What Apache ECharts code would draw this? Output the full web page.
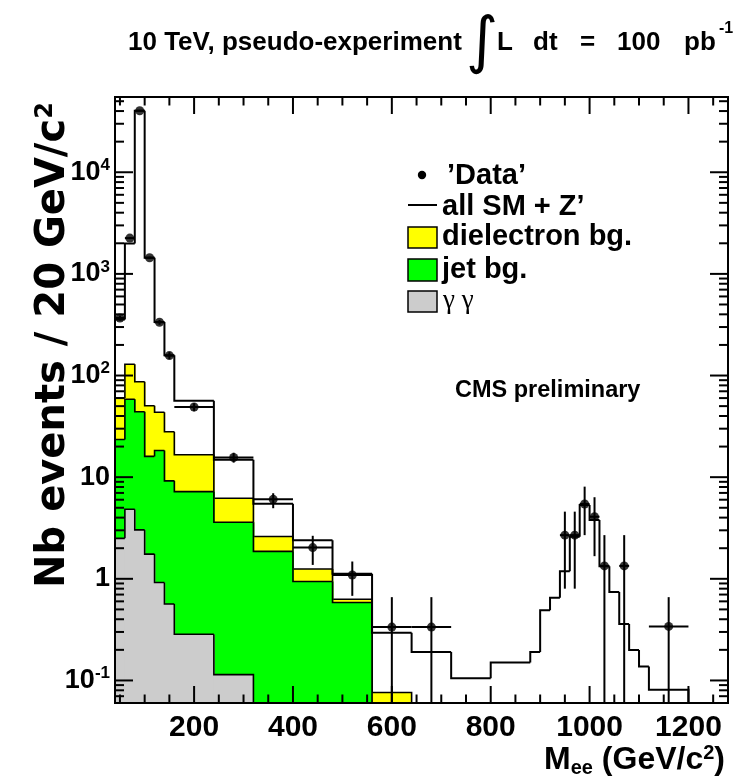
<!DOCTYPE html>
<html><head><meta charset="utf-8">
<script src="https://cdn.jsdelivr.net/npm/echarts@6/dist/echarts.min.js"></script>
<style>html,body{margin:0;padding:0;background:#fff}#c{width:747px;height:780px}</style>
</head><body><div id="c"></div>
<script>
// ---------- data ----------
// "all SM + Z'" histogram (variable bins, GeV) and its contents (events / 20 GeV)
const totalEdges = [40,60,80,100,120,140,160,240,320,400,480,560,640,720,800,880,900,920,940,960,980,1000,1020,1040,1060,1080,1100,1120,1200];
const totalSM = [355,1995,40300,1443,336,158,56.5,14.8,5.47,2.4,1.12,0.295,0.19,0.105,0.15,0.19,0.49,0.65,1.19,2.59,5.32,3.79,1.33,0.74,0.36,0.199,0.137,0.081];
// stacked backgrounds (levels of each filled area)
const bgEdges = [40,60,80,100,120,140,160,240,320,400,480,560,640];
const dielectronBg = [60,129,87,50.5,43.5,28,16.6,6.2,2.61,1.25,0.63,0.076];
const jetBg = [23.5,58.5,44,16,18.3,9.2,7.2,3.6,1.86,0.94,0.585];
const gammaGammaBg = [2.5,4.84,3.03,1.75,0.92,0.565,0.285,0.114];
// pseudo-data
const dataMass = [50,70,90,110,130,150,200,280,360,440,520,600,680,950,970,990,1010,1030,1070,1160];
const dataHalfBin = [10,10,10,10,10,10,40,40,40,40,40,40,40,10,10,10,10,10,10,40];
const dataValue = [368,2250,40300,1443,334,157,49,15.6,6.05,2.03,1.09,0.335,0.335,2.69,2.69,5.45,4.08,1.34,1.34,0.34];
const dataErrHigh = [388,2300,40500,1480,352,170,53.5,17.4,6.95,2.65,1.48,0.66,0.66,4.58,4.58,8.07,6.35,2.69,2.69,0.66];
const dataErrLow = [348,2200,40100,1406,316,145,44.5,13.9,4.95,1.37,0.68,0,0,0.8,0.8,2.69,1.67,0,0,0];
// tick labels
const xTickLabels = [200,400,600,800,1000,1200];
const yTickExponents = [-1,0,1,2,3,4];

// ---------- chart ----------
const XMIN = 40, XMAX = 1280, YMIN = 0.06, YMAX = 5.5e4;
const FONT = '"Liberation Sans", Arial, Helvetica, sans-serif';
const chart = echarts.init(document.getElementById('c'), null, {renderer: 'canvas'});

function histSeries(name, edges, vals, fill, z, lw) {
  const items = vals.map((v, i) => [edges[i], edges[i + 1], v, i > 0 ? vals[i - 1] : 0, i === vals.length - 1 ? 1 : 0]);
  return {
    type: 'custom', name: name, z: z, clip: true, silent: true, animation: false,
    data: items, encode: {x: [0, 1], y: 2},
    renderItem: function (params, api) {
      const cs = params.coordSys, bottom = cs.y + cs.height + 4;
      const x0 = api.value(0), x1 = api.value(1), v = api.value(2), pv = api.value(3), last = api.value(4);
      const yOf = val => val > YMIN ? api.coord([x0, val])[1] : bottom;
      const xa = api.coord([x0, 1])[0], xb = api.coord([x1, 1])[0];
      const yt = yOf(v), yp = yOf(pv);
      const ch = [];
      if (fill) ch.push({type: 'rect', shape: {x: xa, y: yt, width: xb - xa + (last ? 0 : 0.8), height: bottom - yt}, style: {fill: fill}});
      const pts = [[xa, yp], [xa, yt], [xb, yt]];
      if (last) pts.push([xb, bottom]);
      ch.push({type: 'polyline', shape: {points: pts}, style: {stroke: '#000', lineWidth: lw, fill: null}});
      return {type: 'group', children: ch};
    }
  };
}

const errItems = dataMass.map((m, i) => [m, m - dataHalfBin[i], m + dataHalfBin[i], dataValue[i], dataErrLow[i], dataErrHigh[i]]);

const option = {
  animation: false,
  backgroundColor: '#fff',
  textStyle: {fontFamily: FONT, color: '#000'},
  grid: {left: 115, right: 19, top: 97, bottom: 77, containLabel: false, outerBoundsMode: 'none', show: false},
  xAxis: {
    type: 'value', min: XMIN, max: XMAX,
    axisLine: {show: false}, axisTick: {show: false}, splitLine: {show: false},
    axisLabel: {
      customValues: xTickLabels, margin: 10, color: '#000', fontFamily: FONT, fontWeight: 'bold', fontSize: 30,
      formatter: v => (xTickLabels.indexOf(Math.round(v)) >= 0 ? String(Math.round(v)) : '')
    }
  },
  yAxis: {
    type: 'log', logBase: 10, min: YMIN, max: YMAX,
    axisLine: {show: false}, axisTick: {show: false}, splitLine: {show: false}, minorTick: {show: false},
    axisLabel: {
      customValues: yTickExponents.map(k => Math.pow(10, k)), margin: 5, color: '#000',
      formatter: function (v) {
        const lg = Math.log10(v), k = Math.round(lg);
        if (Math.abs(lg - k) > 0.01) return '';
        if (k === 0) return '{b|1}';
        if (k === 1) return '{b|10}';
        return '{b|10}{s|' + k + '}';
      },
      rich: {
        b: {fontFamily: FONT, fontWeight: 'bold', fontSize: 27, color: '#000'},
        s: {fontFamily: FONT, fontWeight: 'bold', fontSize: 17, color: '#000', verticalAlign: 'top', padding: [0, 0, 14, 0]}
      }
    }
  },
  series: [
    histSeries("dielectron bg.", bgEdges, dielectronBg, '#ffff00', 1, 1.6),
    histSeries("jet bg.", bgEdges, jetBg, '#00ff00', 2, 1.6),
    histSeries("γ γ", bgEdges, gammaGammaBg, '#cccccc', 3, 1.6),
    histSeries("all SM + Z'", totalEdges, totalSM, null, 4, 2),
    {
      type: 'custom', name: "'Data' errors", z: 5, clip: true, silent: true,
      data: errItems, encode: {x: 0, y: 3},
      renderItem: function (params, api) {
        const cs = params.coordSys, bottom = cs.y + cs.height + 4;
        const x = api.value(0), xl = api.value(1), xh = api.value(2), y = api.value(3), yl = api.value(4), yh = api.value(5);
        const pl = api.coord([xl, y]), ph = api.coord([xh, y]);
        const pt = api.coord([x, yh]);
        const yb = yl > YMIN ? api.coord([x, yl])[1] : bottom;
        return {type: 'group', children: [
          {type: 'line', shape: {x1: pl[0], y1: pl[1], x2: ph[0], y2: ph[1]}, style: {stroke: '#000', lineWidth: 2}},
          {type: 'line', shape: {x1: pt[0], y1: pt[1], x2: pt[0], y2: yb}, style: {stroke: '#000', lineWidth: 2}}
        ]};
      }
    },
    {
      type: 'scatter', name: "'Data'", z: 6, silent: true,
      data: dataMass.map((m, i) => [m, dataValue[i]]),
      symbol: 'circle', symbolSize: 9, itemStyle: {color: '#000'}
    },
    {
      type: 'custom', name: 'frame', z: 7, clip: false, silent: true,
      data: [[XMIN, 1]], encode: {x: 0, y: 1},
      renderItem: function (params, api) {
        const cs = params.coordSys, L = cs.x, R = cs.x + cs.width, T = cs.y, B = cs.y + cs.height;
        const ch = [];
        const seg = (x1, y1, x2, y2) => ch.push({type: 'line', shape: {x1: x1, y1: y1, x2: x2, y2: y2}, style: {stroke: '#000', lineWidth: 2}});
        for (let g = 50; g < XMAX; g += 50) {
          const x = api.coord([g, 1])[0], len = g % 200 === 0 ? 17 : 8.5;
          seg(x, B, x, B - len); seg(x, T, x, T + len);
        }
        for (let k = -2; k <= 4; k++) for (let m = 1; m <= 9; m++) {
          const v = m * Math.pow(10, k);
          if (v <= YMIN || v >= YMAX) continue;
          const y = api.coord([XMIN, v])[1], len = m === 1 ? 18 : 9;
          seg(L, y, L + len, y); seg(R, y, R - len, y);
        }
        ch.push({type: 'rect', shape: {x: L, y: T, width: R - L, height: B - T}, style: {stroke: '#000', lineWidth: 2, fill: null}});
        return {type: 'group', children: ch};
      }
    }
  ],
  graphic: [
    // title
    {type: 'text', left: 128, top: 30, style: {text: '10 TeV, pseudo-experiment', font: 'bold 26px ' + FONT, fill: '#000'}},
    {type: 'text', x: 482, y: 45, style: {text: '∫', font: '62px "DejaVu Sans", sans-serif', fill: '#000', align: 'center', verticalAlign: 'middle'}},
    {type: 'text', left: 497, top: 30, style: {text: 'L', font: 'bold 26px ' + FONT, fill: '#000'}},
    {type: 'text', left: 533, top: 30, style: {text: 'dt', font: 'bold 26px ' + FONT, fill: '#000'}},
    {type: 'text', left: 580, top: 30, style: {text: '=', font: 'bold 26px ' + FONT, fill: '#000'}},
    {type: 'text', left: 617, top: 30, style: {text: '100', font: 'bold 26px ' + FONT, fill: '#000'}},
    {type: 'text', left: 684, top: 30, style: {text: 'pb', font: 'bold 26px ' + FONT, fill: '#000'}},
    {type: 'text', left: 719, top: 21, style: {text: '-1', font: 'bold 16px ' + FONT, fill: '#000'}},
    // y axis title
    {type: 'text', x: 54, y: 345, rotation: Math.PI / 2,
      style: {text: '{a|Nb events / 20 GeV/c}{s|2}', align: 'center', verticalAlign: 'middle',
        rich: {a: {font: 'bold 40px "DejaVu Sans", sans-serif', fill: '#000'},
               s: {font: 'bold 24px "DejaVu Sans", sans-serif', fill: '#000', verticalAlign: 'top', padding: [0, 0, 16, 0]}}}},
    // x axis title
    {type: 'text', right: 22, top: 743,
      style: {text: '{a|M}{sub|ee}{a| (GeV/c}{sup|2}{a|)}',
        rich: {a: {font: 'bold 32px ' + FONT, fill: '#000'},
               sub: {font: 'bold 20px ' + FONT, fill: '#000', verticalAlign: 'bottom', padding: [15, 0, 0, 0]},
               sup: {font: 'bold 20px ' + FONT, fill: '#000', verticalAlign: 'top', padding: [0, 0, 15, 0]}}}},
    // CMS preliminary
    {type: 'text', left: 455, top: 379, style: {text: 'CMS preliminary', font: 'bold 23.5px ' + FONT, fill: '#000'}},
    // legend
    {type: 'circle', shape: {cx: 422, cy: 175, r: 4.2}, style: {fill: '#000'}},
    {type: 'text', left: 447, top: 161, style: {text: '’Data’', font: 'bold 29px ' + FONT, fill: '#000'}},
    {type: 'line', shape: {x1: 408, y1: 205, x2: 437, y2: 205}, style: {stroke: '#000', lineWidth: 2}},
    {type: 'text', left: 442, top: 192, style: {text: 'all SM + Z’', font: 'bold 29px ' + FONT, fill: '#000'}},
    {type: 'rect', shape: {x: 408, y: 227, width: 29, height: 21}, style: {fill: '#ffff00', stroke: '#000', lineWidth: 1.5}},
    {type: 'text', left: 442, top: 222, style: {text: 'dielectron bg.', font: 'bold 29px ' + FONT, fill: '#000'}},
    {type: 'rect', shape: {x: 408, y: 259, width: 29, height: 22}, style: {fill: '#00ff00', stroke: '#000', lineWidth: 1.5}},
    {type: 'text', left: 442, top: 255, style: {text: 'jet bg.', font: 'bold 29px ' + FONT, fill: '#000'}},
    {type: 'rect', shape: {x: 408, y: 291, width: 29, height: 21}, style: {fill: '#cccccc', stroke: '#000', lineWidth: 1.5}},
    {type: 'text', left: 443, top: 287, style: {text: 'γ γ', font: '27px "Liberation Serif", "DejaVu Serif", serif', fill: '#000'}}
  ]
};
chart.setOption(option);
</script>
</body></html>
